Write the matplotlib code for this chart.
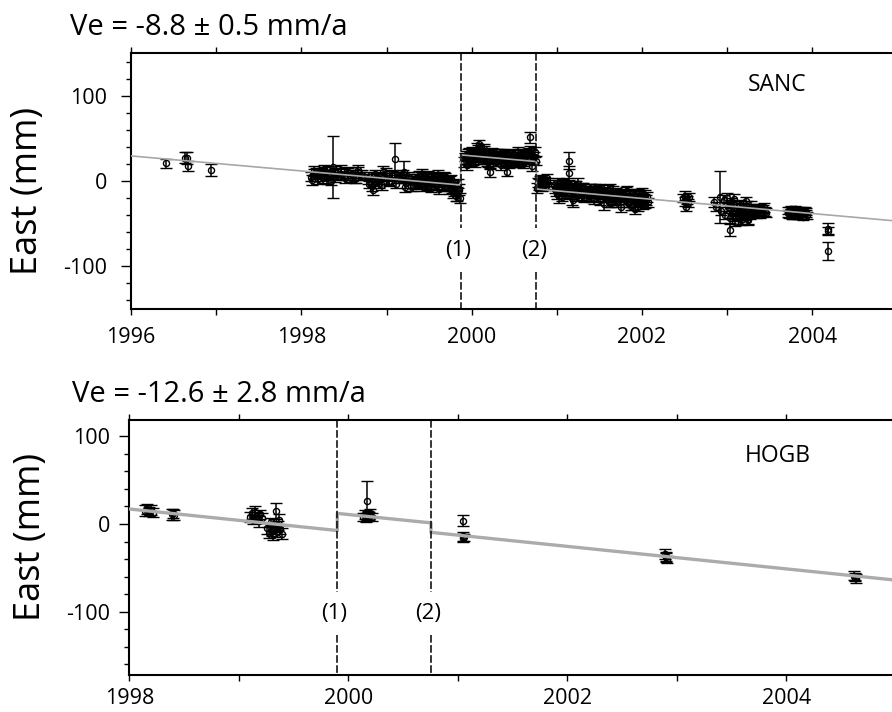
import matplotlib
matplotlib.use("Agg")
import matplotlib.pyplot as plt
from matplotlib.ticker import MultipleLocator

plt.rcParams['font.family'] = ['Open Sans', 'DejaVu Sans']
plt.rcParams['axes.unicode_minus'] = False

# ---------------- SANC (top panel) ----------------
sanc_title = "Ve = -8.8 \u00b1 0.5 mm/a"
sanc_name = "SANC"
sanc_events = [1999.87, 2000.76]

sanc_t_early = [1996.41, 1996.63, 1996.66, 1996.67, 1996.94]
sanc_e_early = [20.8, 27.5, 27.0, 17.6, 12.5]
sanc_s_early = [5.5, 6, 7, 6, 7]

sanc_t_a = [1998.12, 1998.15, 1998.17, 1998.20, 1998.22, 1998.25, 1998.27, 1998.30,
            1998.33, 1998.35, 1998.37, 1998.40, 1998.43, 1998.46, 1998.50, 1998.55,
            1998.58, 1998.61, 1998.64, 1998.67, 1998.70]
sanc_e_a = [1, 8, 10, 6, 9, 4, 11, 3, 7, 12, 16.5, 5, 10, 8, 6, 9, 4, 7, 3, 13, 6]
sanc_s_a = [6, 6, 5, 6, 5, 6, 5, 6, 5, 6, 36.5, 6, 5, 6, 5, 6, 5, 6, 5, 6, 5]

sanc_t_a2 = [1998.11, 1998.15, 1998.19, 1998.23, 1998.27, 1998.31, 1998.35, 1998.39,
             1998.43, 1998.47, 1998.51, 1998.55, 1998.59, 1998.63, 1998.67, 1998.71]
sanc_e_a2 = [5, 12, 2, 9, 14, 7, 0, 11, 6, 13, 3, 10, 8, 4, 11, 7]
sanc_s_a2 = [5, 6, 5, 6, 5, 6, 5, 6, 5, 6, 5, 6, 5, 6, 5, 6]

sanc_t_b = [1998.78, 1998.80, 1998.84, 1998.86, 1998.88, 1998.91, 1998.94, 1998.96,
            1999.00, 1999.03, 1999.06, 1999.10, 1999.12, 1999.15, 1999.18, 1999.21,
            1999.22, 1999.25, 1999.29, 1999.31, 1999.34]
sanc_e_b = [2, -3, -10.6, 0, 4, -2, 6, 11, 3, -1, 7, 26, 5, 4, 6, 11, -7, 3, -5.5, 1, -2]
sanc_s_b = [6, 5, 6, 6, 5, 6, 5, 6, 6, 5, 6, 19, 5, 6, 5, 12, 6, 5, 6, 5, 6]

sanc_t_b2 = [1998.79, 1998.83, 1998.87, 1998.91, 1998.95, 1998.99, 1999.03, 1999.07,
             1999.11, 1999.15, 1999.19, 1999.23, 1999.27, 1999.31, 1999.35]
sanc_e_b2 = [5, -6, 8, 2, -5, 9, 0, 6, -3, 4, 8, -2, 5, -6, 3]
sanc_s_b2 = [5, 6, 5, 6, 5, 6, 5, 6, 5, 6, 5, 6, 5, 6, 5]

sanc_t_c = [1999.37, 1999.39, 1999.41, 1999.43, 1999.45, 1999.47, 1999.49, 1999.51,
            1999.53, 1999.55, 1999.57, 1999.59, 1999.61, 1999.63, 1999.65, 1999.67,
            1999.69, 1999.71, 1999.73, 1999.75, 1999.77, 1999.79, 1999.81, 1999.83,
            1999.85]
sanc_e_c = [2, -4, 5, -1, 3, -6, 6, 0, -3, 4, -5, 1, 7, -2, 2, -7, 3, -1, -4, 1,
            -8, -12, -5, -15, -10]
sanc_s_c = [6, 5, 6, 5, 6, 5, 6, 5, 6, 5, 6, 5, 6, 5, 6, 5, 6, 5, 6, 5, 6, 6, 6, 8, 6]

sanc_t_c2 = [1999.36, 1999.38, 1999.40, 1999.42, 1999.44, 1999.46, 1999.48, 1999.50,
             1999.52, 1999.54, 1999.56, 1999.58, 1999.60, 1999.62, 1999.64, 1999.66,
             1999.68, 1999.70, 1999.72, 1999.74, 1999.76, 1999.78, 1999.80, 1999.82,
             1999.84, 1999.86]
sanc_e_c2 = [-3, 6, -2, 8, -7, 2, -4, 5, -8, 0, 6, -5, 3, -9, 4, -3, 5, -6, 0, -9,
             2, -14, -6, -18, -3, -20]
sanc_s_c2 = [5, 6, 5, 6, 5, 6, 5, 6, 5, 6, 5, 6, 5, 6, 5, 6, 5, 6, 5, 6, 5, 6, 5, 6,
             5, 6]

sanc_t_d = [1999.91, 1999.93, 1999.95, 1999.97, 1999.99, 2000.01, 2000.03, 2000.05,
            2000.07, 2000.09, 2000.11, 2000.13, 2000.15, 2000.17, 2000.19, 2000.21,
            2000.23, 2000.25, 2000.27, 2000.29, 2000.31, 2000.33, 2000.35, 2000.37,
            2000.39, 2000.41, 2000.43, 2000.45, 2000.47, 2000.49, 2000.51, 2000.53,
            2000.55, 2000.57, 2000.59, 2000.61, 2000.63, 2000.65, 2000.67, 2000.69,
            2000.71, 2000.73, 2000.75]
sanc_e_d = [22, 30, 26, 34, 28, 24, 33, 27, 36, 43.5, 29, 25, 35, 31, 22, 10, 28, 33,
            26, 30, 24, 32, 27, 22, 29, 11, 25, 31, 23, 28, 26, 21, 30, 24, 27, 22, 29,
            25, 33, 51, 17, 28, 24]
sanc_s_d = [6, 5, 6, 5, 6, 5, 6, 5, 6, 5, 6, 5, 6, 5, 6, 5, 6, 5, 6, 5, 6, 5, 6, 5,
            6, 5, 6, 5, 6, 5, 6, 5, 6, 5, 6, 5, 6, 5, 6, 7, 5, 6, 5]

sanc_t_d2 = [1999.92, 1999.94, 1999.96, 1999.98, 2000.00, 2000.02, 2000.04, 2000.06,
             2000.08, 2000.10, 2000.12, 2000.14, 2000.16, 2000.18, 2000.20, 2000.22,
             2000.24, 2000.26, 2000.28, 2000.30, 2000.32, 2000.34, 2000.36, 2000.38,
             2000.40, 2000.42, 2000.44, 2000.46, 2000.48, 2000.50, 2000.52, 2000.54,
             2000.56, 2000.58, 2000.60, 2000.62, 2000.64, 2000.66, 2000.68, 2000.70,
             2000.72, 2000.74]
sanc_e_d2 = [28, 19, 32, 24, 35, 30, 21, 38, 31, 26, 33, 37, 27, 24, 32, 20, 34, 27,
             22, 31, 29, 19, 33, 28, 24, 30, 20, 27, 32, 22, 29, 34, 23, 31, 20, 28,
             33, 26, 36, 30, 25, 34]
sanc_s_d2 = [5, 6, 5, 6, 5, 6, 5, 6, 5, 6, 5, 6, 5, 6, 5, 6, 5, 6, 5, 6, 5, 6, 5, 6,
             5, 6, 5, 6, 5, 6, 5, 6, 5, 6, 5, 6, 5, 6, 5, 6, 5, 6]

sanc_t_e = [2000.77, 2000.78, 2000.79, 2000.80, 2000.81, 2000.82, 2000.83, 2000.84,
            2000.85, 2000.86, 2000.87, 2000.88, 2000.89]
sanc_e_e = [-8, -2, -4, 1, 2, -5, -7, 0, -1, -3, -6, -1, 3]
sanc_s_e = [6, 5, 6, 5, 5, 6, 5, 5, 6, 6, 5, 5, 5]

sanc_t_f = [2000.97, 2000.99, 2001.01, 2001.03, 2001.05, 2001.07, 2001.09, 2001.11,
            2001.14, 2001.14, 2001.17, 2001.19, 2001.21, 2001.23, 2001.25, 2001.27,
            2001.29, 2001.31, 2001.33]
sanc_e_f = [-5, -12, -2, -18, -8, -4, -14, -7, 23.5, 9, -10, -22, -6, -13, -3, -11,
            -16, -8, -12]
sanc_s_f = [6, 6, 6, 8, 6, 6, 6, 6, 10, 8, 6, 8, 6, 6, 6, 6, 6, 6, 6]

sanc_t_f2 = [2000.98, 2001.00, 2001.02, 2001.04, 2001.06, 2001.08, 2001.10, 2001.12,
             2001.14, 2001.16, 2001.18, 2001.20, 2001.22, 2001.24, 2001.26, 2001.28,
             2001.30, 2001.32, 2001.34]
sanc_e_f2 = [-9, -15, -4, -10, -19, -6, -12, -2, -16, -8, -20, -11, -5, -17, -9, -14,
             -7, -19, -13]
sanc_s_f2 = [5, 6, 5, 6, 5, 6, 5, 6, 5, 6, 8, 6, 5, 6, 5, 6, 5, 6, 5]

sanc_t_g = [2001.36, 2001.38, 2001.40, 2001.42, 2001.44, 2001.46, 2001.48, 2001.50,
            2001.52, 2001.55, 2001.56, 2001.58, 2001.60, 2001.62, 2001.64, 2001.66,
            2001.68, 2001.70, 2001.72, 2001.75, 2001.76]
sanc_e_g = [-12, -18, -9, -15, -21, -11, -17, -8, -14, -27, -13, -19, -10, -16, -26,
            -12, -18, -22, -15, -30, -14]
sanc_s_g = [6, 5, 6, 5, 6, 5, 6, 5, 6, 7, 5, 6, 5, 6, 5, 6, 5, 6, 5, 6, 5]

sanc_t_g2 = [2001.37, 2001.39, 2001.41, 2001.43, 2001.45, 2001.47, 2001.49, 2001.51,
             2001.53, 2001.55, 2001.57, 2001.59, 2001.61, 2001.63, 2001.65, 2001.67,
             2001.69, 2001.71, 2001.73, 2001.75]
sanc_e_g2 = [-15, -10, -20, -13, -8, -18, -12, -22, -16, -11, -20, -14, -25, -9, -17,
             -21, -13, -24, -18, -16]
sanc_s_g2 = [5, 6, 5, 6, 5, 6, 5, 6, 5, 6, 5, 6, 5, 6, 5, 6, 5, 6, 5, 6]

sanc_t_h = [2001.78, 2001.80, 2001.82, 2001.84, 2001.86, 2001.88, 2001.90, 2001.92,
            2001.94, 2001.96, 2001.98, 2002.00, 2002.02, 2002.04, 2002.06]
sanc_e_h = [-16, -22, -12, -26, -18, -14, -28, -33, -15, -24, -17, -13, -21, -27, -19]
sanc_s_h = [6, 5, 6, 5, 6, 5, 6, 6, 6, 5, 6, 5, 6, 5, 6]

sanc_t_h2 = [2001.79, 2001.81, 2001.83, 2001.85, 2001.87, 2001.89, 2001.91, 2001.93,
             2001.95, 2001.97, 2001.99, 2002.01, 2002.03, 2002.05, 2002.07]
sanc_e_h2 = [-20, -13, -25, -17, -29, -21, -16, -24, -30, -18, -23, -27, -16, -22, -25]
sanc_s_h2 = [5, 6, 5, 6, 5, 6, 5, 6, 5, 6, 5, 6, 5, 6, 5]

sanc_t_i = [2002.48, 2002.50, 2002.51, 2002.52, 2002.53, 2002.54, 2002.55]
sanc_e_i = [-20, -24, -17, -30, -22, -26, -19]
sanc_s_i = [5, 5, 5, 5, 5, 5, 5]

sanc_t_j = [2002.84, 2002.87, 2002.91, 2002.93, 2002.96, 2002.98, 2003.00, 2003.03,
            2003.04, 2003.06, 2003.08, 2003.10, 2003.12, 2003.14, 2003.16, 2003.18,
            2003.20, 2003.22, 2003.24, 2003.26, 2003.28, 2003.30, 2003.33, 2003.36,
            2003.39, 2003.42, 2003.45]
sanc_e_j = [-25, -30, -18.5, -35, -22, -40, -20, -57.6, -27, -38, -21, -42, -29, -36,
            -46, -31, -39, -24, -44, -34, -30, -37, -35, -32, -38, -33, -36]
sanc_s_j = [6, 5, 30.5, 5, 6, 5, 6, 7, 5, 6, 6, 5, 6, 5, 6, 5, 6, 5, 6, 5, 6, 5, 5,
            5, 5, 5, 5]

sanc_t_j2 = [2003.01, 2003.03, 2003.05, 2003.07, 2003.09, 2003.11, 2003.13, 2003.15,
             2003.17, 2003.19, 2003.21, 2003.23, 2003.25, 2003.27, 2003.29, 2003.34,
             2003.37, 2003.40, 2003.43, 2003.46]
sanc_e_j2 = [-30, -43, -25, -37, -48, -33, -40, -28, -45, -35, -41, -29, -46, -38, -32,
             -38, -33, -36, -31, -37]
sanc_s_j2 = [5, 6, 5, 6, 5, 6, 5, 6, 5, 6, 5, 6, 5, 6, 5, 5, 5, 5, 5, 5]

sanc_t_k = [2003.71, 2003.72, 2003.73, 2003.74, 2003.75, 2003.76, 2003.77, 2003.78,
            2003.79, 2003.80, 2003.81, 2003.82, 2003.83, 2003.84, 2003.85, 2003.86,
            2003.87, 2003.88, 2003.89, 2003.90, 2003.91, 2003.92, 2003.93, 2003.94]
sanc_e_k = [-35, -38, -39, -34, -33, -40, -41, -36, -36, -33, -38, -39, -34, -37,
            -40, -41, -37, -35, -42, -38, -35, -36, -38, -40]
sanc_s_k = [4, 4, 4, 4, 4, 4, 4, 4, 4, 4, 4, 4, 4, 4, 4, 4, 4, 4, 4, 4, 4, 4, 4, 4]

sanc_t_l = [2004.18, 2004.18, 2004.18]
sanc_e_l = [-55.7, -58.4, -82.0]
sanc_s_l = [7, 4, 11]

# fitted model (breakpoints)
sanc_fit_t = [1996.0, 1999.87, 1999.87, 2000.76, 2000.76, 2005.0]
sanc_fit_e = [29.4, -4.7, 30.6, 22.8, -9.4, -47.0]

# ---------------- HOGB (bottom panel) ----------------
hogb_title = "Ve = -12.6 \u00b1 2.8 mm/a"
hogb_name = "HOGB"
hogb_events = [1999.90, 2000.755]

hogb_t = [1998.14, 1998.16, 1998.18, 1998.20, 1998.22,
          1998.39, 1998.40, 1998.41,
          1999.10, 1999.12, 1999.13, 1999.15, 1999.16, 1999.18, 1999.19, 1999.21,
          1999.26, 1999.28, 1999.29, 1999.30, 1999.31, 1999.32, 1999.33, 1999.34,
          1999.35, 1999.36, 1999.37, 1999.38, 1999.39,
          2000.13, 2000.15, 2000.16, 2000.17, 2000.18, 2000.19, 2000.20, 2000.22,
          2001.05, 2001.05, 2001.05, 2001.06,
          2002.89, 2002.90, 2002.91, 2002.90,
          2004.62, 2004.63, 2004.64, 2004.63]
hogb_e = [15, 17, 14, 16, 13,
          11, 12, 10,
          8, 12, 5, 14, 9, 3, 11, 7,
          -5, -10, 2, -8, -13, 0, -4, 15, -9, -2, 5, -6, -11,
          8, 11, 7, 26, 10, 9, 12, 8,
          3.8, -14, -16, -15,
          -34, -38, -40, -37,
          -59, -61, -62, -60]
hogb_s = [6, 6, 5, 6, 5,
          6, 5, 6,
          6, 6, 5, 6, 5, 6, 5, 6,
          6, 6, 5, 6, 5, 6, 5, 9, 6, 5, 6, 5, 6,
          5, 5, 5, 23, 5, 5, 5, 5,
          6, 5, 5, 4,
          6, 5, 4, 5,
          5, 4, 5, 4]

hogb_fit_t = [1998.0, 1999.90, 1999.90, 2000.755, 2000.755, 2005.0]
hogb_fit_e = [17.0, -7.5, 12.0, 1.2, -9.6, -64.0]

# ---------------- assemble ----------------
sanc_groups = [
    (sanc_t_early, sanc_e_early, sanc_s_early), (sanc_t_a, sanc_e_a, sanc_s_a),
    (sanc_t_a2, sanc_e_a2, sanc_s_a2), (sanc_t_b, sanc_e_b, sanc_s_b),
    (sanc_t_b2, sanc_e_b2, sanc_s_b2), (sanc_t_c, sanc_e_c, sanc_s_c),
    (sanc_t_c2, sanc_e_c2, sanc_s_c2), (sanc_t_d, sanc_e_d, sanc_s_d),
    (sanc_t_d2, sanc_e_d2, sanc_s_d2), (sanc_t_e, sanc_e_e, sanc_s_e),
    (sanc_t_f, sanc_e_f, sanc_s_f), (sanc_t_f2, sanc_e_f2, sanc_s_f2),
    (sanc_t_g, sanc_e_g, sanc_s_g), (sanc_t_g2, sanc_e_g2, sanc_s_g2),
    (sanc_t_h, sanc_e_h, sanc_s_h), (sanc_t_h2, sanc_e_h2, sanc_s_h2),
    (sanc_t_i, sanc_e_i, sanc_s_i), (sanc_t_j, sanc_e_j, sanc_s_j),
    (sanc_t_j2, sanc_e_j2, sanc_s_j2), (sanc_t_k, sanc_e_k, sanc_s_k),
    (sanc_t_l, sanc_e_l, sanc_s_l),
]
sanc_t, sanc_e, sanc_s = [], [], []
for gt, ge, gs in sanc_groups:
    sanc_t += gt
    sanc_e += ge
    sanc_s += gs

W, H = 892, 712
fig = plt.figure(figsize=(W / 100, H / 100), dpi=100)
fig.patch.set_facecolor('white')

ax1 = fig.add_axes([131 / W, 1 - 309 / H, 766.5 / W, 256 / H])
ax2 = fig.add_axes([129.3 / W, 1 - 675 / H, 766.5 / W, 254.7 / H])


def style_axes(ax, xlim, ylim, xmaj, ypad, xpad):
    ax.set_xlim(*xlim)
    ax.set_ylim(*ylim)
    ax.xaxis.set_major_locator(MultipleLocator(xmaj))
    ax.xaxis.set_minor_locator(MultipleLocator(1))
    ax.yaxis.set_major_locator(MultipleLocator(100))
    ax.yaxis.set_minor_locator(MultipleLocator(20))
    for sp in ax.spines.values():
        sp.set_linewidth(1.5)
    ax.tick_params(axis='x', which='both', direction='out', top=True, bottom=True,
                   length=4, width=1.0, labelsize=15.5, pad=xpad)
    ax.tick_params(axis='y', which='major', direction='out', left=True, right=False,
                   length=7, width=1.0, labelsize=15.5, pad=ypad)
    ax.tick_params(axis='y', which='minor', direction='out', left=True, right=False,
                   length=3.5, width=1.0)


def draw_events(ax, events, y_top_end, y_bot_start, label_y, ylim):
    for i, ev in enumerate(events):
        ax.plot([ev, ev], [ylim[1], y_top_end], color='black', lw=1.1,
                ls=(0, (5, 1.6)), zorder=4, clip_on=False)
        ax.plot([ev, ev], [y_bot_start, ylim[0]], color='black', lw=1.1,
                ls=(0, (5, 1.6)), zorder=4, clip_on=False)
        ax.text(ev - 0.03, label_y, f"({i + 1})", ha='center', va='center',
                fontsize=16)


eb_kw = dict(fmt='o', ms=4.4, mfc='none', mec='black', mew=1.0, ecolor='black',
             elinewidth=1.1, capsize=4.4, capthick=1.5, zorder=2)

# top panel
ylim1 = (-150, 150)
ax1.errorbar(sanc_t, sanc_e, yerr=sanc_s, **eb_kw)
ax1.plot(sanc_fit_t, sanc_fit_e, color='#a8a8a8', lw=1.2, zorder=3)
style_axes(ax1, (1996, 2005), ylim1, 2, 10, 9)
draw_events(ax1, sanc_events, -55, -107, -82, ylim1)
ax1.text(2003.585, 113, sanc_name, ha='center', va='center', fontsize=16.5)

# bottom panel
ylim2 = (-172, 118)
ax2.errorbar(hogb_t, hogb_e, yerr=hogb_s, **eb_kw)
ax2.plot(hogb_fit_t, hogb_fit_e, color='#ababab', lw=2.4, zorder=3)
style_axes(ax2, (1998, 2005), ylim2, 2, 7, 5)
draw_events(ax2, hogb_events, -77, -126, -102, ylim2)
ax2.text(2003.92, 77, hogb_name, ha='center', va='center', fontsize=16.5)

# titles and y labels
fig.text(70 / W, 1 - 35 / H, sanc_title, ha='left', va='baseline', fontsize=21)
fig.text(72 / W, 1 - 402 / H, hogb_title, ha='left', va='baseline', fontsize=21)
fig.text(28 / W, 1 - 191 / H, "East (mm)", rotation=90, ha='center', va='center',
         fontsize=26)
fig.text(31 / W, 1 - 537 / H, "East (mm)", rotation=90, ha='center', va='center',
         fontsize=26)

fig.savefig("out.png", dpi=100, facecolor='white')
